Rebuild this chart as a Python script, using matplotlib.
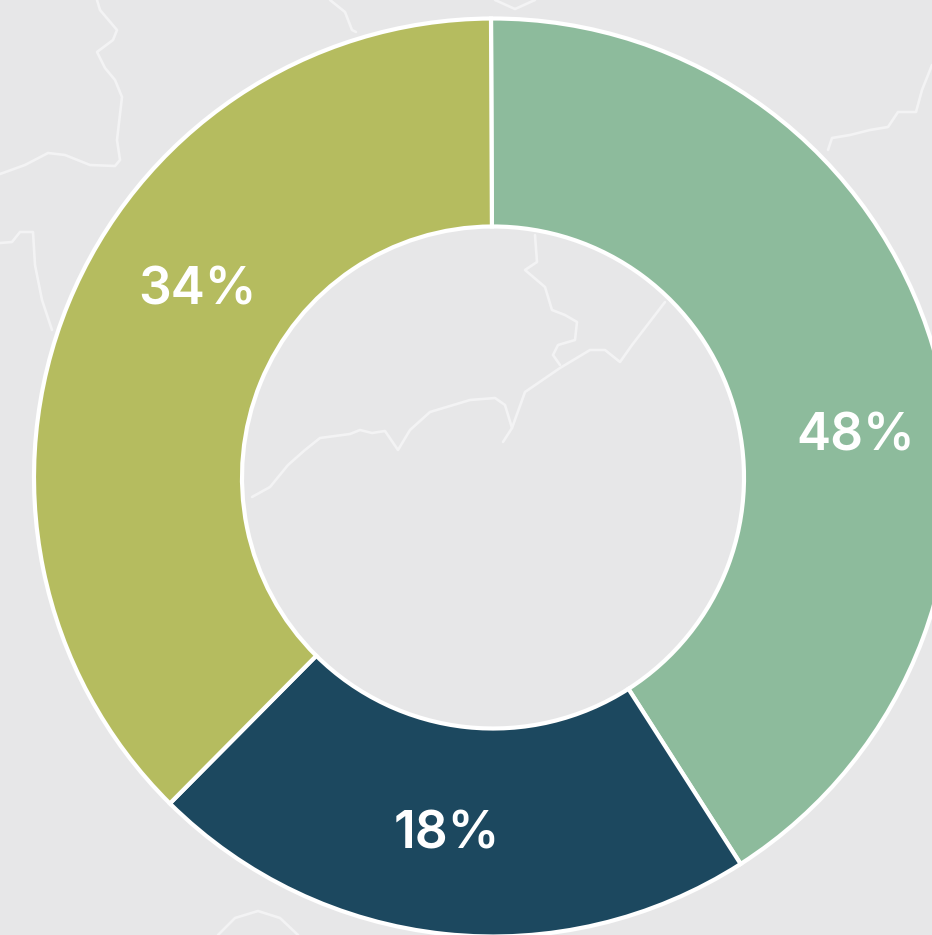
import matplotlib
matplotlib.use('Agg')
import matplotlib.pyplot as plt

# Printed labels, and the slice shares as the arcs are really drawn in the picture
labels = ['48%', '18%', '34%']
arc_shares = [41.0, 21.5, 37.5]
colors = ['#8dbb9c', '#1c485f', '#b5bc5f']

# Where each label sits (pixels)
label_x = [856, 447, 197]
label_y = [437, 835, 291]

# Faint map borders behind the chart (pixels)
border_lines = [
    [(97, 0), (100, 10), (117, 30), (113, 40), (97, 52), (105, 68), (115, 80), (122, 97), (117, 140), (120, 160), (115, 166), (90, 165), (65, 155), (48, 153), (25, 165), (0, 174)],
    [(0, 243), (12, 242), (20, 232), (33, 232), (35, 265), (42, 300), (52, 330)],
    [(330, 0), (345, 12), (352, 30), (356, 32)],
    [(828, 150), (832, 138), (850, 135), (870, 130), (888, 127), (898, 112), (916, 112), (922, 90), (932, 65)],
    [(252, 497), (270, 487), (288, 465), (305, 450), (320, 438), (350, 434), (360, 430), (372, 433), (385, 431), (398, 450), (410, 430), (430, 412), (470, 400), (495, 398), (505, 405), (512, 428), (503, 442)],
    [(512, 428), (525, 392), (560, 368), (590, 350), (605, 350), (620, 362), (632, 345), (665, 302)],
    [(535, 235), (537, 262), (525, 270), (545, 287), (552, 310), (565, 315), (577, 322), (575, 340), (558, 345), (553, 355), (560, 365)],
    [(218, 935), (235, 918), (258, 911), (280, 918), (298, 935)],
    [(495, 0), (515, 9), (535, 0)],
]

fig, ax = plt.subplots()
fig.set_size_inches(9.32, 9.35)
fig.set_dpi(100)
fig.patch.set_facecolor('#e7e7e8')
ax.set_position([0, 0, 1, 1])
ax.set_facecolor('#e7e7e8')

for line in border_lines:
    ax.plot([p[0] for p in line], [p[1] for p in line], color='#f3f3f4', lw=1.9,
            solid_joinstyle='round', solid_capstyle='round', zorder=1)

# y axis is flipped to pixel coords, so 270 is straight up and counterclock reads clockwise
ax.pie(arc_shares, colors=colors, startangle=269.75, counterclock=True, center=(493, 477.5), radius=459,
       wedgeprops=dict(width=208, edgecolor='white', linewidth=3), frame=True)
ax.set_xlim(0, 932)
ax.set_ylim(935, 0)
ax.set_aspect('equal')
ax.axis('off')

for i in range(len(labels)):
    ax.text(label_x[i], label_y[i], labels[i], color='white', fontsize=37, family='Inter', fontweight='semibold',
            ha='center', va='center', zorder=5)

fig.savefig('out.png', dpi=100, facecolor=fig.get_facecolor())
